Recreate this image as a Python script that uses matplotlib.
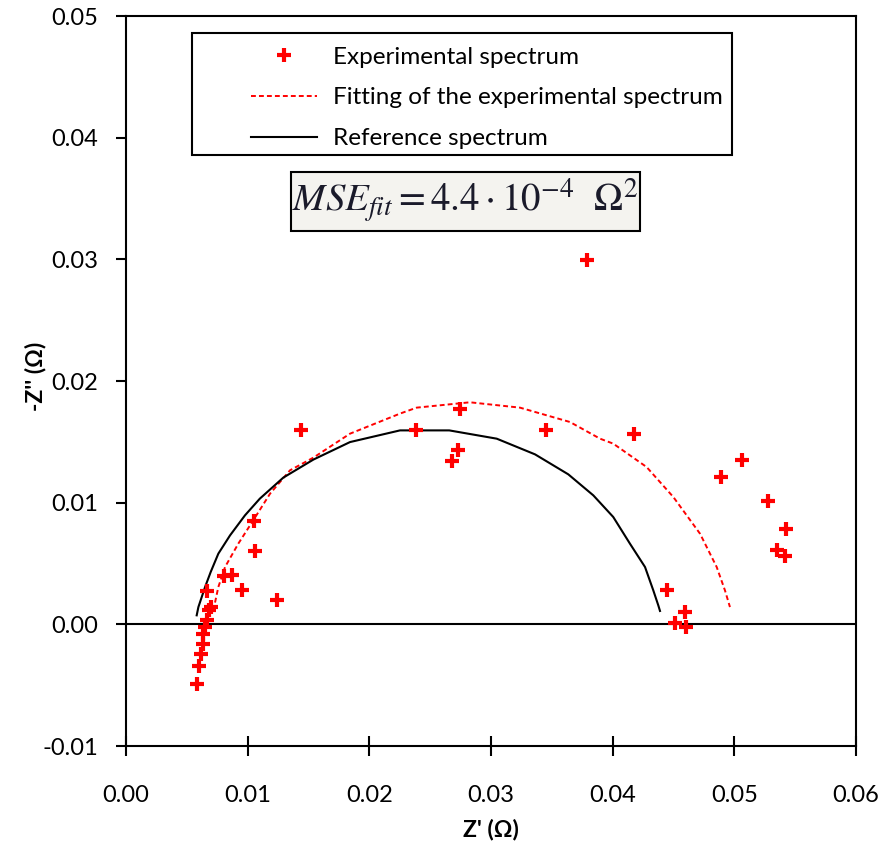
import numpy as np
import matplotlib.pyplot as plt
from matplotlib.patches import Rectangle

# Experimental spectrum (Z', -Z'')
exp_re = [0.00586, 0.00603, 0.00616, 0.00630, 0.00636, 0.00650, 0.00668, 0.00685,
          0.00699, 0.00663, 0.00805, 0.00869, 0.00956, 0.01238, 0.01060, 0.01055,
          0.01436, 0.02383, 0.02677, 0.02731, 0.02745, 0.03452, 0.03786, 0.04173,
          0.04449, 0.04597, 0.04512, 0.04603, 0.04893, 0.05066, 0.05279, 0.05427,
          0.05348, 0.05416]
exp_im = [-0.00493, -0.00345, -0.00247, -0.00159, -0.00082, -0.00022, 0.00039, 0.00115,
          0.00142, 0.00274, 0.00395, 0.00408, 0.00279, 0.00197, 0.00603, 0.00847,
          0.01600, 0.01600, 0.01342, 0.01430, 0.01767, 0.01600, 0.02997, 0.01567,
          0.00279, 0.00101, 0.00010, -0.00020, 0.01211, 0.01354, 0.01011, 0.00781,
          0.00608, 0.00559]

# Fitting of the experimental spectrum
fit_re = [0.00718, 0.00759, 0.00814, 0.00923, 0.01046, 0.01184, 0.01348, 0.01540,
          0.01841, 0.02252, 0.02389, 0.02827, 0.03238, 0.03649, 0.03896, 0.04005,
          0.04279, 0.04499, 0.04718, 0.04855, 0.04923, 0.04964]
fit_im = [0.00115, 0.00307, 0.00471, 0.00663, 0.00855, 0.01074, 0.01266, 0.01370,
          0.01567, 0.01732, 0.01781, 0.01825, 0.01781, 0.01663, 0.01526, 0.01485,
          0.01293, 0.01046, 0.00745, 0.00471, 0.00279, 0.00142]

# Reference spectrum
ref_re = [0.00581, 0.00595, 0.00650, 0.00696, 0.00759, 0.00855, 0.00978, 0.01100,
          0.01293, 0.01540, 0.01841, 0.02252, 0.02657, 0.03047, 0.03362, 0.03635,
          0.03841, 0.04005, 0.04142, 0.04266, 0.04334, 0.04375, 0.04389]
ref_im = [0.00074, 0.00142, 0.00307, 0.00430, 0.00581, 0.00731, 0.00896, 0.01033,
          0.01206, 0.01354, 0.01498, 0.01594, 0.01594, 0.01526, 0.01397, 0.01233,
          0.01060, 0.00882, 0.00663, 0.00471, 0.00279, 0.00156, 0.00110]

xticks = [0.00, 0.01, 0.02, 0.03, 0.04, 0.05, 0.06]
yticks = [-0.01, 0.00, 0.01, 0.02, 0.03, 0.04, 0.05]

font = ['Lato', 'DejaVu Sans']
plt.rcParams['font.family'] = font
plt.rcParams['mathtext.fontset'] = 'stix'

fig = plt.figure(figsize=(8.85, 8.47), dpi=100)
ax = fig.add_axes([126 / 885, 101 / 847, 730 / 885, 730 / 847])

ax.axhline(0, color='black', lw=1.5, zorder=1)
l_exp, = ax.plot(exp_re, exp_im, linestyle='none', marker='+', color='red',
                 markersize=10, markeredgewidth=3, zorder=4, label='Experimental spectrum')
l_fit, = ax.plot(fit_re, fit_im, color='red', linestyle=(0, (2.5, 1.6)), lw=1.4,
                 zorder=2, label='Fitting of the experimental spectrum')
l_ref, = ax.plot(ref_re, ref_im, color='black', lw=1.5, zorder=3, label='Reference spectrum')

ax.set_xlim(0, 0.06)
ax.set_ylim(-0.01, 0.05)
ax.set_xticks(xticks)
ax.set_yticks(yticks)
ax.set_xticklabels([f'{v:.2f}' for v in xticks], fontsize=17)
ax.set_yticklabels([f'{v:.2f}' for v in yticks], fontsize=17)
ax.tick_params(axis='y', direction='out', length=7, width=1.5, pad=13)
ax.tick_params(axis='x', direction='inout', length=14, width=1.5, pad=21)
for s in ax.spines.values():
    s.set_linewidth(1.5)

ax.set_xlabel("Z' (Ω)", fontsize=16.5, fontweight='bold', va='center')
ax.set_ylabel("-Z'' (Ω)", fontsize=16.5, fontweight='bold', va='center')
ax.xaxis.set_label_coords(0.5, (746 - 829) / 730)
ax.yaxis.set_label_coords((35 - 126) / 730, (746 - 376) / 730)

# legend frame and entries
ax.add_patch(Rectangle((0.0904, 0.81), 0.740, 0.167, transform=ax.transAxes,
                       fill=False, edgecolor='black', lw=1.5, zorder=5))
ax.legend(handles=[l_exp, l_fit, l_ref], loc='upper left',
          bbox_to_anchor=(0.1712, 0.9582), frameon=False, fontsize=17.5,
          handlelength=2.72, handletextpad=0.66, labelspacing=0.82, borderpad=0,
          borderaxespad=0)

# MSE box
ax.add_patch(Rectangle(((291 - 126) / 730, (746 - 231) / 730), 349 / 730, 59 / 730,
                       transform=ax.transAxes, facecolor='#f4f3ef', edgecolor='black',
                       lw=1.5, zorder=5))
ax.text((465 - 126) / 730, (746 - 201) / 730,
        r'$MSE_{fit} = 4.4\cdot10^{-4}\ \ \Omega^2$', transform=ax.transAxes,
        ha='center', va='center', fontsize=28, color='#1a1a2a', zorder=6)

fig.savefig('out.png', dpi=100)
